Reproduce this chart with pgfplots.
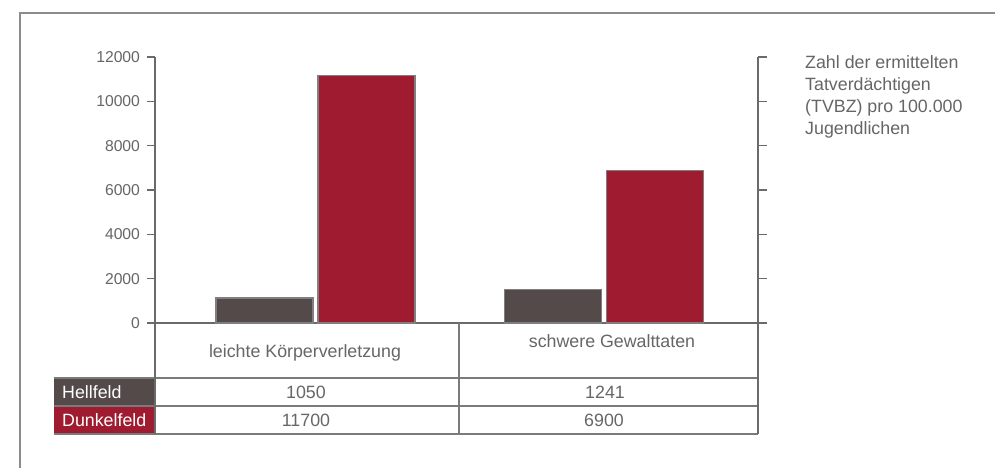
\documentclass[border=0pt]{standalone}
\usepackage{fontspec}
\setmainfont{Liberation Sans}
\usepackage{pgfplots}
\pgfplotsset{compat=1.18}
\definecolor{hell}{HTML}{534A49}
\definecolor{dunkel}{HTML}{9E1B30}
\definecolor{txt}{HTML}{666666}
\definecolor{ln}{HTML}{6A6A6A}
\definecolor{tbl}{HTML}{7A7A7A}
\definecolor{frm}{HTML}{8C8C8C}
\definecolor{bedge}{HTML}{7F7F7F}
\newcommand{\tickfont}{\fontsize{15.7}{18}\selectfont}
\newcommand{\txtfont}{\fontsize{17.8}{22}\selectfont}
\begin{document}
\begin{tikzpicture}[x=1pt,y=1pt]
\useasboundingbox (0,0) rectangle (995,468);
\fill[white] (0,0) rectangle (995,468);
\draw[frm, line width=1.4pt] (20,0) -- (20,455) -- (995,455);
% main axis with bars
\begin{axis}[
  at={(155pt,145pt)}, anchor=south west,
  scale only axis, width=603pt, height=266pt,
  ybar, bar width=97pt,
  ymin=0, ymax=12000, xmin=-0.556, xmax=1.534,
  axis x line*=bottom, axis y line*=left,
  xtick=\empty,
  ytick={0,2000,4000,6000,8000,10000,12000},
  tick align=outside, major tick length=7.5pt,
  axis line style={ln, line width=1.4pt},
  tick style={ln, line width=1.4pt},
  yticklabel style={font=\tickfont, text=txt, xshift=-4pt},
  scaled y ticks=false,
  /pgf/number format/1000 sep={},
  /pgf/number format/assume math mode=true,
  clip=false,
]
\addplot[fill=hell, draw=bedge, line width=1.3pt, bar shift=-51pt] coordinates {(0,1130) (1,1520)};
\addplot[fill=dunkel, draw=bedge, line width=1.3pt, bar shift=51pt] coordinates {(0,11170) (1,6890)};
\end{axis}
% right axis
\begin{axis}[
  at={(155pt,145pt)}, anchor=south west,
  scale only axis, width=603pt, height=266pt,
  ymin=0, ymax=12000, xmin=-0.556, xmax=1.534,
  axis x line=none, axis y line*=right,
  ytick={0,2000,4000,6000,8000,10000,12000},
  yticklabels={},
  scaled y ticks=false,
  tick align=outside, major tick length=9pt,
  axis line style={ln, line width=1.4pt},
  tick style={ln, line width=1.4pt},
  clip=false,
]
\addplot[draw=none] coordinates {(0,0)};
\end{axis}
% table
\fill[hell] (54,62) rectangle (155,90);
\fill[dunkel] (54,34) rectangle (155,62);
\draw[tbl, line width=1.1pt] (54,90) -- (758,90);
\draw[tbl, line width=1.1pt] (54,62) -- (758,62);
\draw[tbl, line width=1.1pt] (54,34) -- (758,34);
\draw[ln, line width=1.4pt] (155,145) -- (155,34);
\draw[tbl, line width=1.1pt] (459,145) -- (459,34);
\draw[ln, line width=1.4pt] (758,145) -- (758,34);
\node[font=\txtfont, text=txt, inner sep=0] at (305,115.5) {leichte Körperverletzung};
\node[font=\txtfont, text=txt, inner sep=0] at (612,126.5) {schwere Gewalttaten};
\node[font=\txtfont, text=txt, inner sep=0] at (306,75.5) {1050};
\node[font=\txtfont, text=txt, inner sep=0] at (306,47.5) {11700};
\node[font=\txtfont, text=txt, inner sep=0] at (605,75.5) {1241};
\node[font=\txtfont, text=txt, inner sep=0] at (604,47.5) {6900};
\node[font=\txtfont, text=white, inner sep=0, anchor=west] at (62,75.5) {Hellfeld};
\node[font=\txtfont, text=white, inner sep=0, anchor=west] at (62,47.5) {Dunkelfeld};
\node[font=\txtfont, text=txt, inner sep=0, anchor=north west, align=left] at (805,413)
  {Zahl der ermittelten\\Tatverdächtigen\\(TVBZ) pro 100.000\\Jugendlichen};
\end{tikzpicture}
\end{document}
